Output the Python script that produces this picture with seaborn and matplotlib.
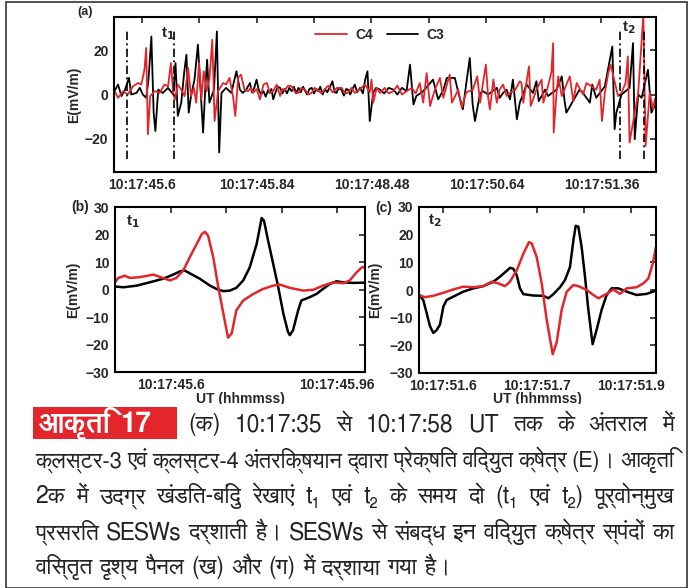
import matplotlib
matplotlib.use("Agg")
import matplotlib.pyplot as plt
import seaborn as sns
from matplotlib import font_manager
from matplotlib.ft2font import FT2Font
from matplotlib.patches import Rectangle

RED = "#e3262b"

# ---- panel (a): whole interval, x in tick steps
a_ticks = [0, 1, 2, 3, 4, 5, 6, 7, 8]
a_ticklabels = ["10:17:45.6", "", "10:17:45.84", "", "10:17:48.48", "",
                "10:17:50.64", "", "10:17:51.36"]
a_c3_t = [-0.48, -0.41, -0.35, -0.29, -0.22, -0.18, -0.09, -0.03, 0.02, 0.08,
          0.12, 0.17, 0.21, 0.24, 0.29, 0.37, 0.46, 0.55, 0.59, 0.63,
          0.69, 0.74, 0.78, 0.82, 0.86, 0.92, 0.98, 1.03, 1.07, 1.11,
          1.14, 1.18, 1.26, 1.31, 1.35, 1.39, 1.47, 1.56, 1.65, 1.71,
          1.76, 1.82, 1.86, 1.885, 1.92, 1.96, 2.00, 2.04, 2.08, 2.12,
          2.16, 2.20, 2.23, 2.26, 2.29, 2.33, 2.37, 2.41, 2.45, 2.49,
          2.53, 2.57, 2.61, 2.65, 2.69, 2.73, 2.77, 2.81, 2.84, 2.88,
          2.92, 2.96, 3.00, 3.04, 3.07, 3.11, 3.15, 3.19, 3.23, 3.27,
          3.32, 3.36, 3.39, 3.43, 3.48, 3.52, 3.56, 3.59, 3.63, 3.67,
          3.71, 3.75, 3.80, 3.85, 3.89, 3.93, 3.97, 4.03, 4.08, 4.15,
          4.22, 4.30, 4.38, 4.45, 4.53, 4.61, 4.67, 4.73, 4.78, 4.90,
          5.07, 5.16, 5.25, 5.31, 5.45, 5.51, 5.59, 5.65, 5.71, 5.76,
          5.80, 5.89, 5.94, 6.03, 6.18, 6.23, 6.29, 6.35, 6.41, 6.46,
          6.53, 6.58, 6.70, 6.81, 6.87, 6.91, 7.02, 7.07, 7.22, 7.31,
          7.36, 7.39, 7.62, 7.68, 7.80, 7.84, 7.91, 8.06, 8.19, 8.23,
          8.26, 8.35, 8.49, 8.55, 8.58, 8.64, 8.70, 8.81, 8.87, 8.93]
a_c3_e = [1, 4.5, -0.7, 2, 7.5, 0, 0.7, 3, 0, -1.5,
          6.7, 26.2, -8.2, -16.5, 2.2, 0.7, 3, 0, 14.2, -9.7,
          -3.7, 9.7, 18, -8.2, -0.7, 6.7, 22.5, 0.7, -17.2, 3.7,
          15.7, -3.7, 2.2, 28.5, -26.2, 0.7, 3, 0.7, 10.5, 2.2,
          0.7, 2.2, 4, 5.2, 1, 3, 6.7, 2, 0, 1.5,
          -1, 2, 0.7, 2.5, -2.2, 1, 3.5, 3, 0.5, 2.5,
          0.5, 3, 1.5, 3.5, 0.5, 3, 1, 3.5, 1.9, 0,
          2.5, 3, 0.5, 2.5, 1.5, 3.5, 0, 2.5, 1, 3,
          6, 1, 0.7, 3, 2, -0.5, 2.5, 2.2, 0, 2.5,
          4.5, 1, 3, 0.5, 6.7, 10.5, -12, 1, 3, 2.2,
          0.5, 3, 2.2, 0, 3, 1.5, 13.5, -4.5, -0.7, 1.5,
          6.7, -2.2, 2, 7.5, 7.5, 1, -6.7, 5.2, 16.5, -4.5,
          -12, 0.5, 1.5, 0, 3, -1.5, 0.7, 2.2, -2.2, 6.7,
          -11.2, -3.7, 4.5, 0.7, 6, -3, 2.2, -0.7, 2.2, 8.2,
          -3, -8.2, 2.2, 0.7, -3.7, 4.5, -1.5, 3.7, 21.7, -15.7,
          -8.2, 0, 3, 23.2, -20.2, 0, -1.5, 11.2, -8.2, -5]
a_c4_t = [-0.48, -0.41, -0.32, -0.24, -0.15, -0.06, -0.005, 0.05, 0.08, 0.11,
          0.15, 0.23, 0.31, 0.40, 0.46, 0.51, 0.55, 0.58, 0.63, 0.69,
          0.75, 0.81, 0.86, 0.91, 0.95, 1.00, 1.04, 1.08, 1.13, 1.18,
          1.23, 1.27, 1.33, 1.42, 1.47, 1.53, 1.59, 1.63, 1.68, 1.73,
          1.79, 1.85, 1.90, 1.94, 2.00, 2.06, 2.12, 2.18, 2.23, 2.29,
          2.35, 2.41, 2.45, 2.49, 2.55, 2.61, 2.67, 2.73, 2.78, 2.84,
          2.90, 2.96, 3.01, 3.07, 3.13, 3.19, 3.25, 3.32, 3.40, 3.48,
          3.54, 3.59, 3.65, 3.71, 3.80, 3.89, 3.97, 4.00, 4.03, 4.09,
          4.15, 4.23, 4.30, 4.38, 4.45, 4.53, 4.61, 4.70, 4.77, 4.84,
          4.90, 4.96, 5.02, 5.10, 5.19, 5.25, 5.36, 5.40, 5.51, 5.57,
          5.65, 5.76, 5.84, 5.89, 5.94, 5.99, 6.03, 6.06, 6.12, 6.18,
          6.23, 6.29, 6.35, 6.41, 6.50, 6.58, 6.61, 6.64, 6.74, 6.77,
          6.87, 6.96, 6.99, 7.07, 7.13, 7.16, 7.17, 7.22, 7.25, 7.31,
          7.45, 7.51, 7.57, 7.68, 7.74, 7.91, 7.97, 8.01, 8.06, 8.12,
          8.16, 8.29, 8.35, 8.42, 8.46, 8.49, 8.64, 8.73, 8.77, 8.84,
          8.90, 8.93]
a_c4_e = [2.2, -1.5, 1.5, 0, 3.7, 5.2, 4.5, 11.2, 21, -18,
          -0.7, 1.5, 0.7, 4.5, 3.7, 14.2, 0.7, -2.2, 4.5, 2.2,
          -0.7, 12, -0.7, 3, -3.7, 14.2, -2.2, 10.5, 1.5, 6.7,
          24.7, -12, 1.5, 5.2, 4.5, 7.5, -0.7, -9.7, 7.5, 9,
          2.2, 1.5, 3, 0.7, 2.5, -2.2, 4.5, 5.2, 1, 1.5,
          4.5, -0.7, 2.5, 1.9, 4, 3.7, 1, 0.7, 3, 2.2,
          0, 0.7, 3, 1.9, 0.5, 2.5, 4, 1, 3, 3,
          0.5, 0.7, 3, 0.7, 2.5, 4.5, 1, 6.7, -3.7, 3,
          0.7, 3, 0.5, 1.5, 4, 0, 1.5, 3, 0.5, 5.2,
          -3.7, 9.7, -5.2, 2, 7.5, -1.5, 9, -3.7, 2.2, -6,
          1, 2, 8.2, -3.7, 5.2, 13.5, -1.5, -6.7, 6.7, -3.7,
          2.2, 4.5, -0.7, 0.7, 2, 6, 5.2, -3.7, 12.7, -5.2,
          2.2, 6.7, -3.7, 3.7, 10, 23.2, -17.2, 1, 8.2, -0.7,
          8.2, -3, 5.2, 0, 5.2, 2.2, 6.7, -12, 0.7, 9.7,
          13.5, -0.7, 0.7, 5.2, 17.2, -21.7, 0.7, 36, -23.2, 0.7,
          -6.7, -2]
a_marks = [-0.25, 0.56, 8.32, 8.74]
a_mark_range = (-29, 29)

# ---- panel (b): t1 zoom, ms after 10:17:45.6
b_ticks = [0, 120, 240, 360]
b_ticklabels = ["10:17:45.6", "", "", "10:17:45.96"]
b_c3_t = [-121, -103, -74, -46, -17, 5, 20, 30, 41, 63, 85, 99, 114, 128, 142,
          157, 171, 186, 197, 202, 211, 222, 233, 244, 254, 258, 265, 276, 283,
          301, 316, 330, 345, 359, 374, 395, 421]
b_c3_e = [1.1, 0.8, 1.4, 2.6, 3.9, 5.4, 6.6, 6.9, 5.9, 3.9, 1.4, 0.2, -0.6, -0.4,
          0.6, 3.3, 8, 16.5, 26, 25, 17.7, 9.3, 0.8, -8.8, -15.4, -16.6, -14.8,
          -7.6, -4, -2.8, -1.6, 0.2, 2, 3, 2.6, 2.4, 2.5]
b_c4_t = [-121, -114, -100, -89, -67, -38, -17, -2, 12, 27, 41, 56, 67, 74, 81,
          92, 103, 114, 124, 132, 142, 157, 179, 200, 222, 236, 258, 287, 309,
          330, 352, 374, 388, 403, 414, 421]
b_c4_e = [2.6, 4.2, 5, 4.2, 4.5, 5.4, 4.2, 3.3, 4.2, 6.9, 11.7, 16.5, 20.1, 21,
          19.5, 11.7, 0.8, -8.8, -17.5, -16, -7.6, -4, -1.6, 0.2, 1.4, 1.8, 0.6,
          -0.4, -0.1, 1.4, 2.6, 2.3, 3.3, 6.3, 8, 8.3]

# ---- panel (c): t2 zoom, ms after 10:17:51.6
c_ticks = [0, 50, 100, 150, 200]
c_ticklabels = ["10:17:51.6", "", "10:17:51.7", "", "10:17:51.9"]
c_c3_t = [-25.5, -21, -17.4, -13.8, -10.3, -6.7, -3.2, 0.4, 3.9, 11, 21.6, 32.3,
          42.9, 53.6, 60.6, 67.7, 71.3, 74.8, 78.4, 81.9, 85.5, 96.1, 106.8,
          112.1, 117.4, 124.5, 129.8, 135.1, 138.7, 141.2, 144, 147.5, 151.1,
          154.6, 159.2, 163.5, 168.8, 174.1, 179.4, 186.5, 195.4, 206, 216.7,
          226.6]
c_c3_e = [-1.8, -3.6, -8.3, -13.1, -15.5, -14.5, -12.5, -6, -3.6, -2.4, -0.6,
          0.6, 1.4, 3, 4.8, 6.9, 8, 7.7, 5.4, 0.6, -1.5, -2, -2.1, -3, -1.5, 1,
          3.6, 8.3, 17.9, 23.2, 22.9, 15.5, 4.8, -7.1, -19.6, -14.3, -7.1, -1.8,
          0.6, 0.6, -0.6, -1.8, -1.4, -0.2]
c_c4_t = [-25.5, -19.2, -10.3, 0.4, 11, 21.6, 32.3, 42.9, 51.8, 58.9, 66, 71.3,
          78.4, 85.5, 91.5, 94.3, 99.7, 105, 110.3, 116.7, 120.9, 126.3, 131.6,
          138.7, 144, 152.9, 160, 165.3, 174.1, 181.2, 188.3, 195.4, 206, 213.2,
          218.5, 223.1, 226.6]
c_c4_e = [-1.8, -2.6, -2.1, -1, 0.2, 1.2, 1, 1.4, 3, 2.4, 1.4, 3, 7.1, 13.1,
          17.3, 16.9, 11.9, 2.4, -10.7, -23.2, -19, -7.1, -0.6, 1.8, 1.4, 0,
          -1.8, -3, -1.4, 0.2, -1.4, 0.6, 1, 2.4, 4.2, 9.5, 15.5]

caption_tag = "आकृति 17"
caption_lines = [
    "(क) 10:17:35 से 10:17:58 UT तक के अंतराल में",
    "क्लस्टर-3 एवं क्लस्टर-4 अंतरिक्षयान द्वारा प्रेक्षित विद्युत क्षेत्र (E)। आकृति",
    "2क में उदग्र खंडित-बिंदु रेखाएं t₁ एवं t₂ के समय दो (t₁ एवं t₂) पूर्वोन्मुख",
    "प्रसरित SESWs दर्शाती है। SESWs से संबद्ध इन विद्युत क्षेत्र स्पंदों का",
    "विस्तृत दृश्य पैनल (ख) और (ग) में दर्शाया गया है।",
]


def find_devanagari():
    found = []
    for f in font_manager.fontManager.ttflist:
        try:
            if 0x0915 in FT2Font(f.fname).get_charmap():
                found.append(f.name)
        except Exception:
            continue
    # proportional sans faces first
    found.sort(key=lambda n: ("Mono" in n, "Serif" in n, "Sans" not in n, n))
    return found[0] if found else None


sns.set_style("white")
plt.rcParams["font.family"] = ["Liberation Sans", "DejaVu Sans"]
plt.rcParams["font.weight"] = "bold"
plt.rcParams["axes.labelweight"] = "bold"
plt.rcParams["font.size"] = 10
plt.rcParams["axes.linewidth"] = 1.5

deva = find_devanagari()
cap_family = [deva, "Roboto", "DejaVu Sans"] if deva else ["Roboto", "DejaVu Sans"]

W, H = 693, 588
fig = plt.figure(figsize=(W / 100, H / 100), dpi=100)


def box(l, t, r, b):
    return [l / W, 1 - b / H, (r - l) / W, (b - t) / H]


ax_a = fig.add_axes(box(114, 17, 656, 172))
ax_b = fig.add_axes(box(115, 207, 365, 372))
ax_c = fig.add_axes(box(419, 207, 656, 373))

for ax in (ax_a, ax_b, ax_c):
    ax.tick_params(direction="in", top=True, right=True, length=4, width=1.2,
                   labelsize=10, pad=4)
    for s in ax.spines.values():
        s.set_color("black")

# (a)
sns.lineplot(x=a_c3_t, y=a_c3_e, ax=ax_a, color="black", lw=1.3,
             estimator=None, sort=False, label="C3")
sns.lineplot(x=a_c4_t, y=a_c4_e, ax=ax_a, color=RED, lw=1.3,
             estimator=None, sort=False, label="C4")
ax_a.vlines(a_marks, *a_mark_range, colors="black", lw=1.2,
            linestyles=[(0, (5, 2, 1.2, 2))])
ax_a.set_xlim(-0.48, 8.95)
ax_a.set_ylim(-35, 35)
ax_a.set_xticks(a_ticks, a_ticklabels)
ax_a.set_yticks([-20, 0, 20])
ax_a.set_ylabel("E(mV/m)")
ax_a.yaxis.set_label_coords(-0.06, 0.5)
h, l = ax_a.get_legend_handles_labels()
ax_a.legend(h[::-1], l[::-1], loc="center", bbox_to_anchor=(0.49, 0.885),
            ncol=2, frameon=False, handlelength=2.3, handletextpad=0.6,
            columnspacing=1.0, fontsize=10)
ax_a.text(0.46, 27.5, "t$_\\mathbf{1}$", ha="center", va="center", fontsize=11)
ax_a.text(8.48, 30, "t$_\\mathbf{2}$", ha="center", va="center", fontsize=11)
fig.text(85 / W, 1 - 12 / H, "(a)", ha="center", va="center", fontsize=9)

# (b)
sns.lineplot(x=b_c3_t, y=b_c3_e, ax=ax_b, color="black", lw=1.8,
             estimator=None, sort=False)
sns.lineplot(x=b_c4_t, y=b_c4_e, ax=ax_b, color=RED, lw=1.8,
             estimator=None, sort=False)
ax_b.set_xlim(-121, 421)
ax_b.set_ylim(-30, 30)
ax_b.set_xticks(b_ticks, b_ticklabels)
ax_b.set_yticks(range(-30, 31, 10))
ax_b.set_ylabel("E(mV/m)")
ax_b.yaxis.set_label_coords(-0.14, 0.5)
ax_b.set_xlabel("UT (hhmmss)")
ax_b.xaxis.set_label_coords(0.5, -0.12)
ax_b.text(0.072, 0.91, "t$_\\mathbf{1}$", transform=ax_b.transAxes,
          ha="center", va="center", fontsize=11)
fig.text(80 / W, 1 - 207 / H, "(b)", ha="center", va="center", fontsize=10)

# (c)
sns.lineplot(x=c_c3_t, y=c_c3_e, ax=ax_c, color="black", lw=1.8,
             estimator=None, sort=False)
sns.lineplot(x=c_c4_t, y=c_c4_e, ax=ax_c, color=RED, lw=1.8,
             estimator=None, sort=False)
ax_c.set_xlim(-25.5, 226.6)
ax_c.set_ylim(-30, 30)
ax_c.set_xticks(c_ticks, c_ticklabels)
ax_c.set_yticks(range(-30, 31, 10))
ax_c.set_ylabel("E(mV/m)")
ax_c.yaxis.set_label_coords(-0.156, 0.5)
ax_c.set_xlabel("UT (hhmmss)")
ax_c.xaxis.set_label_coords(0.5, -0.114)
ax_c.text(0.068, 0.92, "t$_\\mathbf{2}$", transform=ax_c.transAxes,
          ha="center", va="center", fontsize=11)
fig.text(384 / W, 1 - 208 / H, "(c)", ha="center", va="center", fontsize=10)

# caption block (covers lower part of the x labels, as in the page)
fig.add_artist(Rectangle((7 / W, 0), 679 / W, 1 - 404 / H, transform=fig.transFigure,
                         facecolor="white", edgecolor="none", zorder=5))
fig.add_artist(Rectangle((33 / W, 1 - 439 / H), 144 / W, 32 / H,
                         transform=fig.transFigure, facecolor=RED,
                         edgecolor="none", zorder=6))

renderer = fig.canvas.get_renderer()

# tag: word pieces placed side by side so the gap survives the bold face
x = 39
for piece in caption_tag.split(" "):
    t = fig.text(x / W, 1 - 432 / H, piece, ha="left", va="baseline",
                 color="white", fontsize=20, fontweight="bold",
                 family=cap_family, zorder=7)
    x += t.get_window_extent(renderer).width + 9

baselines = [431, 467, 503, 539, 574]
starts = [188, 35, 35, 35, 35]
right = 674


def place_line(words, y, size):
    arts = [fig.text(0, 1 - y / H, w, fontsize=size, fontweight="normal",
                     family=cap_family, color="#222222", va="baseline", zorder=7)
            for w in words]
    widths = [a.get_window_extent(renderer).width for a in arts]
    return arts, widths


for i, (line, y, x0) in enumerate(zip(caption_lines, baselines, starts)):
    words = line.split(" ")
    justify = i < len(caption_lines) - 1
    size = 16.5
    arts, widths = place_line(words, y, size)
    need = sum(widths) + 5 * (len(words) - 1)
    if need > right - x0:
        for a in arts:
            a.remove()
        size = size * (right - x0) / need
        arts, widths = place_line(words, y, size)
    gap = (right - x0 - sum(widths)) / (len(words) - 1) if justify else 7
    x = x0
    for a, w in zip(arts, widths):
        a.set_x(x / W)
        x += w + gap

# page frame
fig.add_artist(Rectangle((6 / W, 0), 681 / W, 1 - 1.5 / H, transform=fig.transFigure,
                         facecolor="none", edgecolor="#333333", lw=1.2, zorder=8))

fig.savefig("out.png", dpi=100)
